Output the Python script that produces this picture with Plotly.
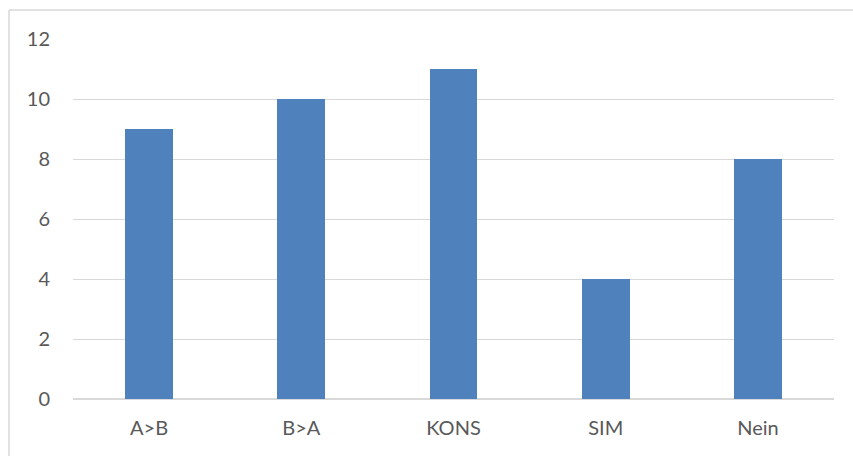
import plotly.graph_objects as go

categories = ["A>B", "B>A", "KONS", "SIM", "Nein"]
values = [9, 10, 11, 4, 8]
y_ticks = [0, 2, 4, 6, 8, 10, 12]

W, H = 853, 456
ml, mr, mt, mb = 73, 19, 39, 57
pw, ph = W - ml - mr, H - mt - mb

fig = go.Figure(
    go.Bar(
        x=categories,
        y=values,
        marker=dict(color="#4f81bd", line=dict(width=0)),
        width=0.315,
    )
)

# chart-area frame (top and left edges visible)
fx0 = (9 - ml) / pw
fy1 = 1 + (mt - 10) / ph
frame = dict(type="line", xref="paper", yref="paper",
             line=dict(color="#d9d9d9", width=1.5))
fig.add_shape(**frame, x0=fx0, x1=1.2, y0=fy1, y1=fy1)
fig.add_shape(**frame, x0=fx0, x1=fx0, y0=fy1, y1=-0.3)

font = dict(family="Lato, Open Sans, sans-serif", size=20, color="#595959")

fig.update_layout(
    width=W, height=H,
    margin=dict(l=ml, r=mr, t=mt, b=mb),
    paper_bgcolor="white", plot_bgcolor="white",
    showlegend=False,
    bargap=0,
    font=font,
    xaxis=dict(showgrid=False, showline=False, ticks="", tickfont=font,
               ticklabelstandoff=15),
    yaxis=dict(range=[0, 12], tickvals=y_ticks, showgrid=True,
               gridcolor="#d9d9d9", gridwidth=1.2, zeroline=True,
               zerolinecolor="#d9d9d9", zerolinewidth=1.5,
               showline=False, ticks="", tickfont=font,
               ticklabelstandoff=22),
)

fig.write_html("out.html")
